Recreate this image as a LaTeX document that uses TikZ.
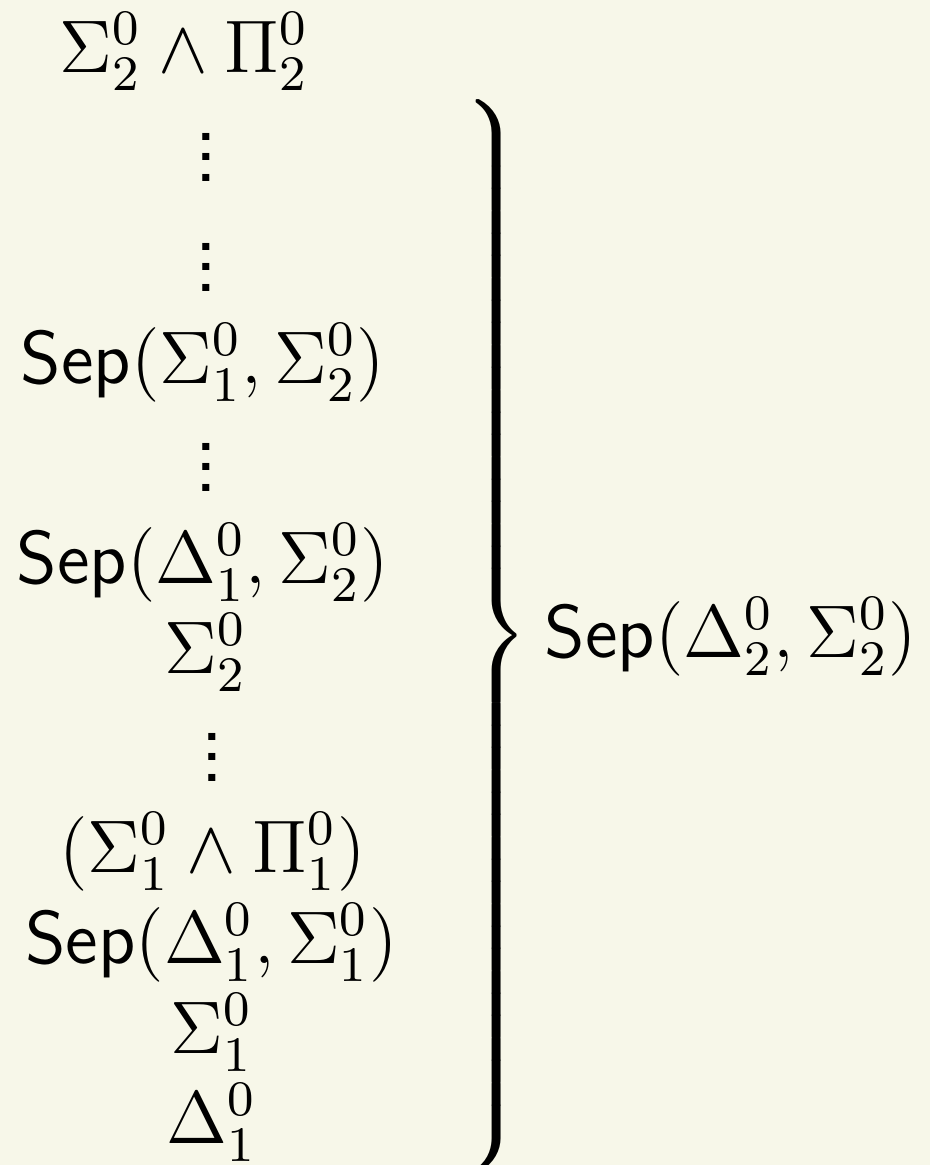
\documentclass[12pt,tikz,border=0pt]{standalone}
\usepackage{xcolor}
\usepackage{amsmath}
\usepackage{amssymb}
\usetikzlibrary{positioning}
\definecolor{fundo}{RGB}{247,247,233}
\newcommand{\Sep}{\textsf{Sep}}
\newcommand{\pontinhos}{\vbox{\fontsize{14pt}{14pt}\sffamily
  \baselineskip3.3pt\lineskiplimit0pt
  \hbox{.}\hbox{.}\hbox{.}}}

\begin{document}
\begin{tikzpicture}[
    nivel/.style={anchor=base, inner sep=0pt},
    pontos/.style={inner sep=0pt},
    chave/.style={inner sep=0pt}
    ]
    
    \fill[fundo] (0,0) rectangle (5.2633,-6.5933);
    \useasboundingbox (0,0) rectangle (5.2633,-6.5933);
    
    \node[nivel] (sp2) at (1.0442,-0.4075)
    {$\Sigma^0_2 \wedge \Pi^0_2$};
    
    \node[pontos] (pa) at (1.1659,-0.8885) {\pontinhos};
    \node[pontos] (pb) at (1.1659,-1.5111) {\pontinhos};
    
    \node[nivel] (sepss) at (1.1489,-2.1676)
    {$\Sep(\Sigma^0_1, \Sigma^0_2)$};
    
    \node[pontos] (pc) at (1.1659,-2.6430) {\pontinhos};
    
    \node[nivel] (sepds) at (1.1489,-3.2995)
    {$\Sep(\Delta^0_1, \Sigma^0_2)$};
    
    \node[nivel] (s2) at (1.1630,-3.8088)
    {$\Sigma^0_2$};
    
    \node[pontos] (pd) at (1.1998,-4.2842) {\pontinhos};
    
    \node[nivel] (sp1) at (1.2026,-4.9351)
    {$(\Sigma^0_1 \wedge \Pi^0_1)$};
    
    \node[nivel] (sepd1) at (1.1970,-5.4501)
    {$\Sep(\Delta^0_1, \Sigma^0_1)$};
    
    \node[nivel] (s1) at (1.1970,-5.9595)
    {$\Sigma^0_1$};
    
    \node[nivel] (d1) at (1.1970,-6.4688)
    {$\Delta^0_1$};
    
    % chave da direita
    \node[chave] (ch) at (2.7901,-3.5990)
    {$\left.\vcenter{\hbox{\rule{0pt}{171pt}}}\right\}$};
    
    \node[nivel] (sepd2) at (4.1371,-3.7183)
    {$\Sep(\Delta^0_2, \Sigma^0_2)$};
    
\end{tikzpicture}
\end{document}
